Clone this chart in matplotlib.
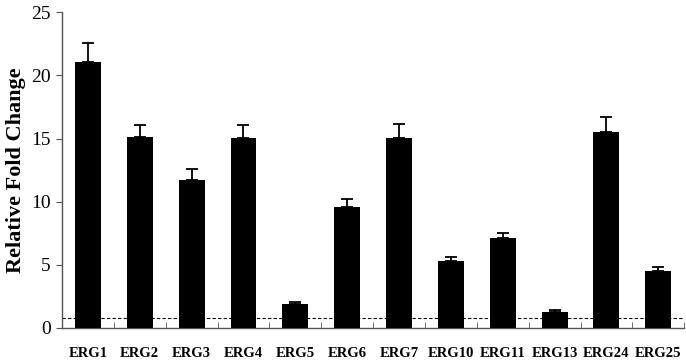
import numpy as np
import matplotlib.pyplot as plt

genes = ['ERG1', 'ERG2', 'ERG3', 'ERG4', 'ERG5', 'ERG6', 'ERG7',
         'ERG10', 'ERG11', 'ERG13', 'ERG24', 'ERG25']
fold = [21.1, 15.15, 11.75, 15.05, 1.9, 9.6, 15.05, 5.3, 7.15, 1.3, 15.55, 4.5]
err = [1.5, 0.95, 0.85, 1.0, 0.12, 0.6, 1.1, 0.32, 0.38, 0.1, 1.15, 0.35]
baseline = 0.8

plt.rcParams['font.family'] = ['Liberation Serif', 'DejaVu Serif']

fig = plt.figure(figsize=(6.86, 3.64), dpi=100)
ax = fig.add_axes([0.0904, 0.099, 0.907, 0.867])

x = np.arange(len(genes))
ax.bar(x, fold, width=0.5, color='black', zorder=3)
ax.errorbar(x, fold, yerr=[np.zeros(len(err)), err], fmt='none',
            ecolor='black', elinewidth=1.3, capsize=4, capthick=1.3, zorder=4)
ax.axhline(baseline, color='black', linestyle=(0, (3, 2)), linewidth=0.8, zorder=2)

ax.set_xlim(-0.5, len(genes) - 0.5)
ax.set_ylim(0, 25)
ax.set_yticks(range(0, 26, 5))
ax.tick_params(axis='y', direction='out', length=4, labelsize=14, pad=4,
               color='#555555')

ax.set_xticks(x)
ax.set_xticklabels(genes, fontweight='bold', fontsize=10.5)
ax.tick_params(axis='x', which='major', length=0, pad=14)
ax.set_xticks(np.arange(0.5, len(genes), 1.0), minor=True)
ax.tick_params(axis='x', which='minor', direction='in', length=4, color='#555555')

for side in ['top', 'right']:
    ax.spines[side].set_visible(False)
for side in ['left', 'bottom']:
    ax.spines[side].set_color('#555555')
    ax.spines[side].set_linewidth(1.0)

ax.set_ylabel('Relative Fold Change', fontsize=16, fontweight='bold', labelpad=4)

fig.savefig('out.png', dpi=100)
